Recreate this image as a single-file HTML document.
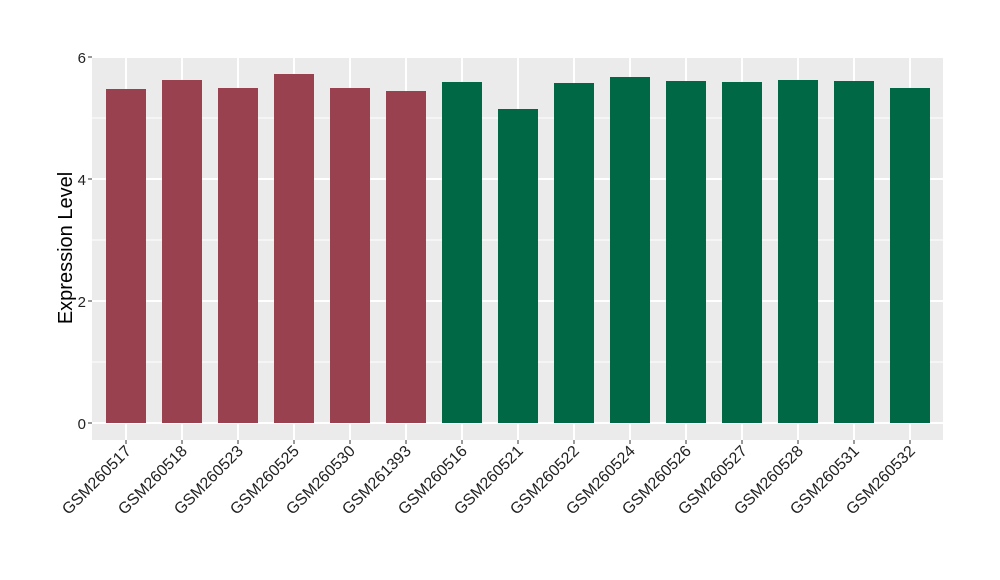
<!DOCTYPE html>
<html><head><style>body{margin:0;background:#fff}svg{display:block}</style></head><body>
<svg width="1000" height="580" xmlns="http://www.w3.org/2000/svg" font-family="Liberation Sans, sans-serif">
<rect x="92" y="57" width="851" height="383" fill="#ebebeb"/>
<g stroke="#fff" stroke-width="1">
<line x1="92" x2="943" y1="118" y2="118"/><line x1="92" x2="943" y1="240" y2="240"/><line x1="92" x2="943" y1="362" y2="362"/>
</g>
<g stroke="#fff" stroke-width="2">
<line x1="92" x2="943" y1="57" y2="57"/><line x1="92" x2="943" y1="179" y2="179"/><line x1="92" x2="943" y1="301" y2="301"/><line x1="92" x2="943" y1="423" y2="423"/>
<line x1="126" x2="126" y1="57" y2="440"/><line x1="182" x2="182" y1="57" y2="440"/><line x1="238" x2="238" y1="57" y2="440"/><line x1="294" x2="294" y1="57" y2="440"/><line x1="350" x2="350" y1="57" y2="440"/><line x1="406" x2="406" y1="57" y2="440"/><line x1="462" x2="462" y1="57" y2="440"/><line x1="518" x2="518" y1="57" y2="440"/><line x1="574" x2="574" y1="57" y2="440"/><line x1="630" x2="630" y1="57" y2="440"/><line x1="686" x2="686" y1="57" y2="440"/><line x1="742" x2="742" y1="57" y2="440"/><line x1="798" x2="798" y1="57" y2="440"/><line x1="854" x2="854" y1="57" y2="440"/><line x1="910" x2="910" y1="57" y2="440"/>
</g>
<g fill="#9a4150">
<rect x="106" y="89" width="40" height="334"/><rect x="162" y="80" width="40" height="343"/><rect x="218" y="88" width="40" height="335"/><rect x="274" y="74" width="40" height="349"/><rect x="330" y="88" width="40" height="335"/><rect x="386" y="91" width="40" height="332"/>
</g>
<g fill="#006845">
<rect x="442" y="82" width="40" height="341"/><rect x="498" y="109" width="40" height="314"/><rect x="554" y="83" width="40" height="340"/><rect x="610" y="77" width="40" height="346"/><rect x="666" y="81" width="40" height="342"/><rect x="722" y="82" width="40" height="341"/><rect x="778" y="80" width="40" height="343"/><rect x="834" y="81" width="40" height="342"/><rect x="890" y="88" width="40" height="335"/>
</g>
<g stroke="#333" stroke-width="1">
<line x1="88" x2="92" y1="57" y2="57"/><line x1="88" x2="92" y1="179" y2="179"/><line x1="88" x2="92" y1="301" y2="301"/><line x1="88" x2="92" y1="423" y2="423"/>
</g>
<g font-size="15" fill="#222" text-anchor="end">
<text x="86" y="63">6</text><text x="86" y="185">4</text><text x="86" y="307">2</text><text x="86" y="429">0</text>
</g>
<text transform="translate(72,248) rotate(-90)" font-size="20" text-anchor="middle" fill="#000">Expression Level</text>
<g font-size="16" fill="#222" text-anchor="end">
<text transform="translate(132,452) rotate(-45)">GSM260517</text>
<text transform="translate(188,452) rotate(-45)">GSM260518</text>
<text transform="translate(244,452) rotate(-45)">GSM260523</text>
<text transform="translate(300,452) rotate(-45)">GSM260525</text>
<text transform="translate(356,452) rotate(-45)">GSM260530</text>
<text transform="translate(412,452) rotate(-45)">GSM261393</text>
<text transform="translate(468,452) rotate(-45)">GSM260516</text>
<text transform="translate(524,452) rotate(-45)">GSM260521</text>
<text transform="translate(580,452) rotate(-45)">GSM260522</text>
<text transform="translate(636,452) rotate(-45)">GSM260524</text>
<text transform="translate(692,452) rotate(-45)">GSM260526</text>
<text transform="translate(748,452) rotate(-45)">GSM260527</text>
<text transform="translate(804,452) rotate(-45)">GSM260528</text>
<text transform="translate(860,452) rotate(-45)">GSM260531</text>
<text transform="translate(916,452) rotate(-45)">GSM260532</text>
</g>
<g stroke="#333" stroke-width="1">
<line x1="126" x2="126" y1="440" y2="444"/><line x1="182" x2="182" y1="440" y2="444"/><line x1="238" x2="238" y1="440" y2="444"/><line x1="294" x2="294" y1="440" y2="444"/><line x1="350" x2="350" y1="440" y2="444"/><line x1="406" x2="406" y1="440" y2="444"/><line x1="462" x2="462" y1="440" y2="444"/><line x1="518" x2="518" y1="440" y2="444"/><line x1="574" x2="574" y1="440" y2="444"/><line x1="630" x2="630" y1="440" y2="444"/><line x1="686" x2="686" y1="440" y2="444"/><line x1="742" x2="742" y1="440" y2="444"/><line x1="798" x2="798" y1="440" y2="444"/><line x1="854" x2="854" y1="440" y2="444"/><line x1="910" x2="910" y1="440" y2="444"/>
</g>
</svg>
</body></html>
